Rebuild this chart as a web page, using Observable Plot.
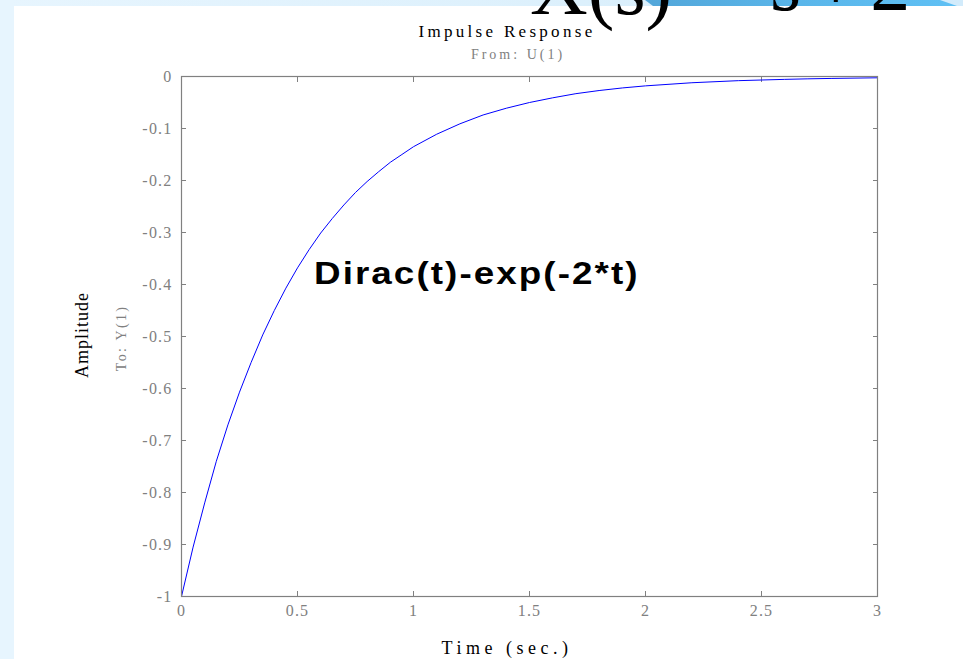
<!DOCTYPE html>
<html>
<head>
<meta charset="utf-8">
<script src="https://cdn.jsdelivr.net/npm/d3@7"></script>
<script src="https://cdn.jsdelivr.net/npm/@observablehq/plot@0.6"></script>
<style>
  html, body { margin: 0; padding: 0; background: #fff; }
  #page { position: relative; width: 963px; height: 659px; overflow: hidden; background: #fff; }
  #chart { position: absolute; left: 0; top: 0; }
  .abs { position: absolute; white-space: nowrap; }
  .serif { font-family: "Liberation Serif", "Times New Roman", serif; }
  #band { position: absolute; left: 0; top: 0; width: 963px; height: 6px;
          background: linear-gradient(90deg, #e7f5fe 0%, #dcf0fc 60%, #d2ebfb 100%); }
  #bandBlue { position: absolute; left: 645px; top: 0; width: 312px; height: 6px;
              background: linear-gradient(90deg, #52a6d9 0%, #5ab6ea 50%, #5fc0f4 100%);
              clip-path: polygon(0 0, 295px 0, 312px 6px, 8px 6px); }
  #strip { position: absolute; left: 0; top: 0; width: 14px; height: 659px; background: #e7f5fe; }
</style>
</head>
<body>
<div id="page">
  <div id="chart"></div>
  <div id="band"></div>
  <div id="bandBlue"></div>
  <div id="strip"></div>
</div>
<script>
// Impulse response samples: time (s) and amplitude
const time = [0, 0.05, 0.1, 0.15, 0.2, 0.25, 0.3, 0.35, 0.4, 0.45, 0.5, 0.55, 0.6, 0.65, 0.7, 0.75,
  0.8, 0.85, 0.9, 0.95, 1.0, 1.1, 1.2, 1.3, 1.4, 1.5, 1.6, 1.7, 1.8, 1.9, 2.0, 2.2, 2.4, 2.6, 2.7, 2.8, 3.0];
const amplitude = [-1, -0.905, -0.82, -0.74, -0.67, -0.607, -0.55, -0.497, -0.45, -0.407, -0.368, -0.333,
  -0.301, -0.273, -0.247, -0.223, -0.202, -0.183, -0.165, -0.15, -0.135, -0.111, -0.091, -0.074, -0.061,
  -0.05, -0.041, -0.033, -0.027, -0.022, -0.018, -0.012, -0.008, -0.0055, -0.0045, -0.0037, -0.0025];

// Axis ticks and their labels
const xTicks = [0, 0.5, 1, 1.5, 2, 2.5, 3];
const xTickLabels = ["0", "0.5", "1", "1.5", "2", "2.5", "3"];
const yTicks = [0, -0.1, -0.2, -0.3, -0.4, -0.5, -0.6, -0.7, -0.8, -0.9, -1];
const yTickLabels = ["0", "-0.1", "-0.2", "-0.3", "-0.4", "-0.5", "-0.6", "-0.7", "-0.8", "-0.9", "-1"];

// Texts
const headerLeft = "X(s)";
const headerRight = "s + 2";
const title = "Impulse Response";
const subtitle = "From: U(1)";
const xLabel = "Time (sec.)";
const yLabel = "Amplitude";
const yLabelSub = "To: Y(1)";
const annotation = "Dirac(t)-exp(-2*t)";

const rows = time.map((t, i) => ({t, amp: amplitude[i]}));
const fmt = (ticks, labels) => v => labels[ticks.findIndex(d => Math.abs(d - v) < 1e-9)];

const gray = "#808080";
const serifFamily = "Liberation Serif, Times New Roman, serif";

const chart = Plot.plot({
  width: 963,
  height: 659,
  marginLeft: 181,
  marginRight: 86,
  marginTop: 76,
  marginBottom: 63,
  style: {background: "transparent", overflow: "visible", color: gray, fontFamily: serifFamily},
  x: {domain: [0, 3]},
  y: {domain: [-1, 0]},
  marks: [
    Plot.axisX(xTicks, {anchor: "bottom", tickSize: -5, tickPadding: 13, tickFormat: fmt(xTicks, xTickLabels),
      stroke: gray, fill: gray, fontSize: 16, label: null}),
    Plot.axisX(xTicks, {anchor: "top", tickSize: -5, fill: "none", stroke: gray, label: null}),
    Plot.axisY(yTicks, {anchor: "left", tickSize: -5, tickPadding: 14, tickFormat: fmt(yTicks, yTickLabels),
      stroke: gray, fill: gray, fontSize: 16, label: null}),
    Plot.axisY(yTicks, {anchor: "right", tickSize: -5, fill: "none", stroke: gray, label: null}),
    Plot.line(rows, {x: "t", y: "amp", stroke: "#0000ff", strokeWidth: 1}),
    Plot.frame({stroke: gray, strokeWidth: 1.2})
  ]
});
document.getElementById("chart").appendChild(chart);
chart.querySelectorAll("g[aria-label$='tick label'] text").forEach(t => t.setAttribute("letter-spacing", "1.2"));

const page = document.getElementById("page");
function addText(text, css, cls = "abs serif") {
  const d = document.createElement("div");
  d.className = cls;
  d.textContent = text;
  Object.assign(d.style, css);
  page.appendChild(d);
  return d;
}

// Large equation header, cut by the top edge of the page
addText(headerLeft, {left: "530px", top: "-53px", fontSize: "80px", lineHeight: "80px", color: "#000"});
addText(headerRight, {left: "770px", top: "-57px", fontSize: "80px", lineHeight: "80px", color: "#000", letterSpacing: "-4px"});

// Titles and axis labels
addText(title, {left: "0", width: "1014px", textAlign: "center", top: "22px", fontSize: "17px",
  lineHeight: "20px", letterSpacing: "3.3px", color: "#000"});
addText(subtitle, {left: "0", width: "1036px", textAlign: "center", top: "46px", fontSize: "14px",
  lineHeight: "18px", letterSpacing: "3px", color: gray});
addText(xLabel, {left: "0", width: "1014px", textAlign: "center", top: "638px", fontSize: "18px",
  lineHeight: "20px", letterSpacing: "4.5px", color: "#000"});
addText(yLabel, {left: "82px", top: "335px", fontSize: "18px", lineHeight: "20px", letterSpacing: "1px",
  color: "#000", transform: "translate(-50%, -50%) rotate(-90deg)"});
addText(yLabelSub, {left: "122px", top: "338px", fontSize: "14px", lineHeight: "16px", letterSpacing: "2.3px",
  color: gray, transform: "translate(-50%, -50%) rotate(-90deg)"});

// Annotation of the plotted function
addText(annotation, {left: "314px", top: "255px", fontSize: "32px", lineHeight: "36px", fontWeight: "bold",
  letterSpacing: "1.8px", color: "#000", transform: "scaleX(1.15)", transformOrigin: "0 0",
  fontFamily: "Liberation Sans, Arial, sans-serif"}, "abs");
</script>
</body>
</html>
